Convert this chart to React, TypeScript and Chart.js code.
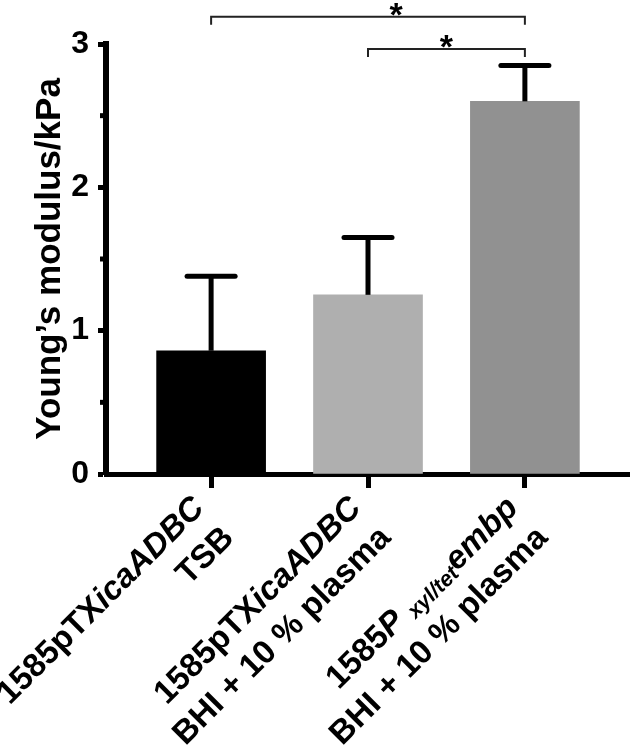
import React, { useEffect, useRef } from 'react';
import { Chart, registerables } from 'chart.js';

Chart.register(...registerables);

type Seg = { t: string; i?: boolean; sub?: boolean };

// ---- data ----
const categoryLine1: Seg[][] = [
  [{ t: '1585pTX' }, { t: 'icaADBC', i: true }],
  [{ t: '1585pTX' }, { t: 'icaADBC', i: true }],
  [{ t: '1585' }, { t: 'P', i: true }, { t: ' ' }, { t: 'xyl/tet', i: true, sub: true }, { t: 'embp', i: true }],
];
const categoryLine2: string[] = ['TSB', 'BHI + 10 % plasma', 'BHI + 10 % plasma'];
const meanValues: number[] = [0.86, 1.25, 2.6];
const sdValues: number[] = [0.52, 0.4, 0.25];
const barColors: string[] = ['#000000', '#afafaf', '#919191'];
const yTickValues: number[] = [0, 0.5, 1, 1.5, 2, 2.5, 3];
const yTitle = 'Young\u2019s modulus/kPa';
const sigFrom: number[] = [0, 1];
const sigTo: number[] = [2, 2];
const sigLevel: number[] = [3.19, 2.965];
const sigText: string[] = ['*', '*'];
const sigTextX: number[] = [1.18, 1.5];

const FAMILY = '"Liberation Sans", Arial, Helvetica, sans-serif';

function drawSegs(ctx: CanvasRenderingContext2D, segs: Seg[], y: number, size: number) {
  const parts = segs.map((s) => {
    const fs = s.sub ? size * 0.66 : size;
    const font = `${s.i ? 'italic ' : ''}bold ${fs}px ${FAMILY}`;
    ctx.font = font;
    return { s, font, w: ctx.measureText(s.t).width, dy: s.sub ? size * 0.22 : 0 };
  });
  const total = parts.reduce((a, p) => a + p.w, 0);
  let x = -total;
  ctx.textAlign = 'left';
  for (const p of parts) {
    ctx.font = p.font;
    ctx.fillText(p.s.t, x, y + p.dy);
    x += p.w;
  }
}

const overlayPlugin = {
  id: 'overlay',
  afterDatasetsDraw(chart: any) {
    const ctx: CanvasRenderingContext2D = chart.ctx;
    const xs = chart.scales.x;
    const ys = chart.scales.y;
    ctx.save();
    ctx.strokeStyle = '#000';
    ctx.lineWidth = 5;
    meanValues.forEach((m, i) => {
      const x = xs.getPixelForValue(i);
      const yb = ys.getPixelForValue(m);
      const yc = ys.getPixelForValue(m + sdValues[i]);
      ctx.lineCap = 'butt';
      ctx.beginPath();
      ctx.moveTo(x, yb);
      ctx.lineTo(x, yc);
      ctx.stroke();
      ctx.lineCap = 'round';
      ctx.beginPath();
      ctx.moveTo(x - 24, yc);
      ctx.lineTo(x + 24, yc);
      ctx.stroke();
    });
    ctx.restore();
  },
  afterDraw(chart: any) {
    const ctx: CanvasRenderingContext2D = chart.ctx;
    const xs = chart.scales.x;
    const ys = chart.scales.y;
    const area = chart.chartArea;
    ctx.save();
    // minor y ticks (shorter)
    ctx.strokeStyle = '#000';
    ctx.lineWidth = 5;
    ctx.lineCap = 'butt';
    yTickValues.forEach((v) => {
      if (Number.isInteger(v)) return;
      const y = ys.getPixelForValue(v);
      ctx.beginPath();
      ctx.moveTo(area.left, y);
      ctx.lineTo(area.left - 6, y);
      ctx.stroke();
    });
    // significance brackets
    ctx.strokeStyle = '#222';
    ctx.lineWidth = 2;
    sigFrom.forEach((f, k) => {
      const x1 = xs.getPixelForValue(f);
      const x2 = xs.getPixelForValue(sigTo[k]);
      const y = ys.getPixelForValue(sigLevel[k]);
      ctx.beginPath();
      ctx.moveTo(x1, y + 8);
      ctx.lineTo(x1, y);
      ctx.lineTo(x2, y);
      ctx.lineTo(x2, y + 8);
      ctx.stroke();
      ctx.fillStyle = '#000';
      ctx.font = `bold 34px ${FAMILY}`;
      ctx.textAlign = 'center';
      ctx.textBaseline = 'alphabetic';
      ctx.fillText(sigText[k], xs.getPixelForValue(sigTextX[k]), y + 9);
    });
    // y title
    ctx.fillStyle = '#000';
    ctx.save();
    ctx.translate(60, (area.top + area.bottom) / 2);
    ctx.rotate(-Math.PI / 2);
    ctx.font = `bold 35px ${FAMILY}`;
    ctx.textAlign = 'center';
    ctx.textBaseline = 'alphabetic';
    ctx.fillText(yTitle, 0, 0);
    ctx.restore();
    // x labels
    categoryLine1.forEach((segs, i) => {
      const tx = xs.getPixelForValue(i);
      ctx.save();
      ctx.translate(tx + 3, area.bottom + 44);
      ctx.rotate(-Math.PI / 4);
      ctx.textBaseline = 'middle';
      ctx.fillStyle = '#000';
      drawSegs(ctx, segs, -21, 33);
      drawSegs(ctx, [{ t: categoryLine2[i] }], 21, 33);
      ctx.restore();
    });
    ctx.restore();
  },
};

export default function App() {
  const ref = useRef<HTMLCanvasElement | null>(null);
  useEffect(() => {
    if (!ref.current) return;
    const chart = new Chart(ref.current, {
      type: 'bar',
      data: {
        datasets: [
          {
            data: meanValues.map((v, i) => ({ x: i, y: v })),
            backgroundColor: barColors,
            borderWidth: 0,
            barThickness: 109,
          },
        ],
      },
      options: {
        responsive: false,
        animation: false,
        layout: { padding: { top: 44, left: 0, right: 0, bottom: 0 } },
        plugins: { legend: { display: false }, tooltip: { enabled: false } },
        scales: {
          x: {
            type: 'linear',
            min: -0.67,
            max: 2.67,
            offset: false,
            z: 1,
            afterBuildTicks: (s: any) => {
              s.ticks = [0, 1, 2].map((v) => ({ value: v }));
            },
            afterFit: (s: any) => {
              s.height = 277;
            },
            ticks: { display: false },
            grid: {
              display: true,
              offset: false,
              drawOnChartArea: false,
              drawTicks: true,
              tickLength: 14,
              tickWidth: 5,
              tickColor: '#000',
            },
            border: { display: true, width: 5, color: '#000' },
          },
          y: {
            min: 0,
            max: 3,
            z: 1,
            afterBuildTicks: (s: any) => {
              s.ticks = yTickValues.map((v) => ({ value: v }));
            },
            afterFit: (s: any) => {
              s.width = 106;
            },
            ticks: {
              color: '#000',
              padding: 9,
              font: { family: FAMILY, size: 32, weight: 'bold' },
              callback: (v: any) => (Number.isInteger(v) ? String(v) : ''),
            },
            grid: {
              display: true,
              drawOnChartArea: false,
              drawTicks: true,
              tickLength: 8,
              tickWidth: 5,
              tickColor: (c: any) => (c.tick && Number.isInteger(c.tick.value) ? '#000' : 'rgba(0,0,0,0)'),
            },
            border: { display: true, width: 6, color: '#000' },
          },
        },
      } as any,
      plugins: [overlayPlugin],
    });
    return () => chart.destroy();
  }, []);
  return (
    <div style={{ position: 'absolute', left: 0, top: 0, width: 630, height: 751, background: '#fff' }}>
      <canvas ref={ref} width={630} height={751} style={{ width: 630, height: 751, display: 'block' }} />
    </div>
  );
}
